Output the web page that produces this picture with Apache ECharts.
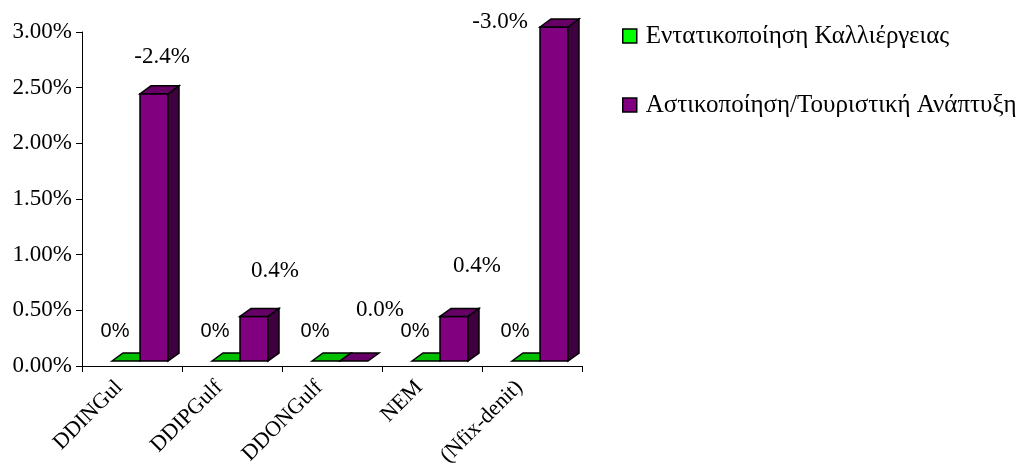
<!DOCTYPE html>
<html>
<head>
<meta charset="utf-8">
<script src="https://cdn.jsdelivr.net/npm/echarts@6/dist/echarts.min.js"></script>
<style>
  html, body { margin: 0; padding: 0; background: #fff; }
  #chart { width: 1023px; height: 475px; }
</style>
</head>
<body>
<div id="chart"></div>
<script>
// Scenario categories
const categories = ['DDINGul', 'DDIPGulf', 'DDONGulf', 'NEM', '(Nfix-denit)'];
// Series names
const seriesNames = ['Εντατικοποίηση Καλλιέργειας', 'Αστικοποίηση/Τουριστική Ανάπτυξη'];
// Change per scenario, in percent (signed); bars show the magnitude
const intensification = [0, 0, 0, 0, 0];
const urbanisation = [-2.4, 0.4, 0.0, 0.4, -3.0];
// Value axis ticks
const yTicks = [0, 0.5, 1.0, 1.5, 2.0, 2.5, 3.0];

// Layout of the extruded bars
const SERIF = 'Liberation Serif';
const SANS = 'Liberation Sans';
const DEPTH_X = 11, DEPTH_Y = 8, LIFT = 5;
const faces = [
  { front: '#00ff00', top: '#00c000', side: '#008000' },
  { front: '#800080', top: '#660066', side: '#400040' }
];
// Label placement for each series (pixels, relative to the bar)
const greenLabelShift = [-17, -35];
const purpleLabelShift = [[8, -29], [21, -38], [26, -43], [23, -43], [-54, 3]];

function makeRender(s) {
  return function (params, api) {
    const idx = api.value(0);
    const v = api.value(1);
    const signed = api.value(2);
    const base = api.coord([idx, 0]);
    const topPt = api.coord([idx, v]);
    const band = api.size([1, 0])[0];
    const w = band * 0.28;
    const xc = base[0];
    const left = xc - band * 0.20 + s * w;
    const y0 = base[1] - LIFT;
    const yv = topPt[1] - LIFT;
    const f = faces[s];
    const stroke = { stroke: '#000', lineWidth: 1.5, lineJoin: 'miter' };
    const children = [];
    if (y0 - yv > 0.5) {
      children.push({ type: 'rect', shape: { x: left, y: yv, width: w, height: y0 - yv },
        style: Object.assign({ fill: f.front }, stroke) });
      children.push({ type: 'polygon', shape: { points: [
          [left + w, yv], [left + w + DEPTH_X, yv - DEPTH_Y],
          [left + w + DEPTH_X, y0 - DEPTH_Y], [left + w, y0]] },
        style: Object.assign({ fill: f.side }, stroke) });
    }
    children.push({ type: 'polygon', shape: { points: [
        [left, yv], [left + DEPTH_X, yv - DEPTH_Y],
        [left + w + DEPTH_X, yv - DEPTH_Y], [left + w, yv]] },
      style: Object.assign({ fill: f.top }, stroke) });

    let label;
    if (s === 0) {
      label = { type: 'text', x: xc + greenLabelShift[0], y: base[1] + greenLabelShift[1],
        style: { text: signed.toFixed(0) + '%', fontFamily: SANS, fontSize: 20, fill: '#000',
          align: 'center', verticalAlign: 'middle' } };
    } else {
      const sh = purpleLabelShift[idx];
      label = { type: 'text', x: left + w / 2 + sh[0], y: yv - DEPTH_Y + sh[1],
        style: { text: signed.toFixed(1) + '%', fontFamily: SERIF, fontSize: 23, fill: '#000',
          align: 'center', verticalAlign: 'middle' } };
    }
    children.push(label);
    return { type: 'group', children: children };
  };
}

function toData(arr) {
  return arr.map((v, i) => [i, Math.abs(v), v]);
}

const chart = echarts.init(document.getElementById('chart'), null, { renderer: 'canvas' });
chart.setOption({
  animation: false,
  backgroundColor: '#fff',
  grid: { left: 82, right: 441, top: 32, bottom: 109, containLabel: false, outerBoundsMode: 'none' },
  legend: {
    orient: 'vertical',
    left: 622,
    top: 22,
    padding: 0,
    itemWidth: 14,
    itemHeight: 14,
    itemGap: 41,
    icon: 'rect',
    data: seriesNames,
    itemStyle: { borderColor: '#000', borderWidth: 1.5 },
    textStyle: { fontFamily: SERIF, fontSize: 25, lineHeight: 28, color: '#000', padding: [0, 0, 0, 4] }
  },
  xAxis: {
    type: 'category',
    data: categories,
    boundaryGap: true,
    axisLine: { lineStyle: { color: '#000', width: 1 } },
    axisTick: { show: true, length: 6, lineStyle: { color: '#000' } },
    axisLabel: { rotate: 45, margin: 21, padding: [0, 7, 0, 0], verticalAlign: 'bottom',
      fontFamily: SERIF, fontSize: 22, color: '#000', interval: 0, hideOverlap: false },
    splitLine: { show: false }
  },
  yAxis: {
    type: 'value',
    min: yTicks[0],
    max: yTicks[yTicks.length - 1],
    interval: yTicks[1] - yTicks[0],
    axisLine: { show: true, lineStyle: { color: '#000', width: 1 } },
    axisTick: { show: true, length: 6, lineStyle: { color: '#000' } },
    axisLabel: { margin: 10, fontFamily: SERIF, fontSize: 23, color: '#000',
      formatter: v => v.toFixed(2) + '%' },
    splitLine: { show: false }
  },
  series: [
    { name: seriesNames[0], type: 'custom', renderItem: makeRender(0),
      itemStyle: { color: faces[0].front }, encode: { x: 0, y: 1 },
      data: toData(intensification), clip: false, z: 2 },
    { name: seriesNames[1], type: 'custom', renderItem: makeRender(1),
      itemStyle: { color: faces[1].front }, encode: { x: 0, y: 1 },
      data: toData(urbanisation), clip: false, z: 3 }
  ]
});
</script>
</body>
</html>
